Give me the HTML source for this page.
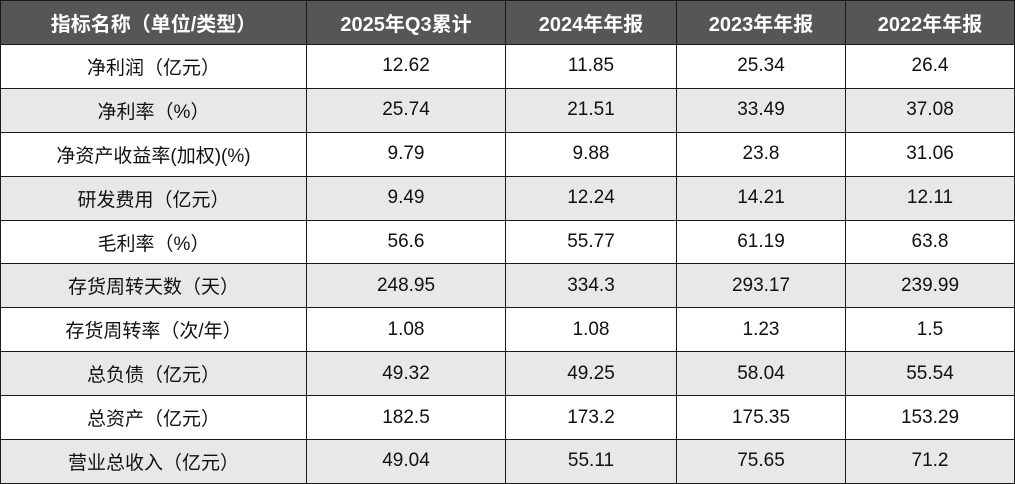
<!DOCTYPE html>
<html><head><meta charset="utf-8"><style>
html,body{margin:0;padding:0;background:#fff;}
table{border-collapse:collapse;table-layout:fixed;width:1014px;height:483px;font-family:"Liberation Sans","Noto Sans CJK SC",sans-serif;}
td,th{border:1.5px solid #1a1a1a;text-align:center;padding:0;font-size:19px;color:#111;}
th{background:#565656;color:#fff;font-size:20px;font-weight:bold;height:43px;}
tr{height:43.9px;}
tr:nth-child(odd) td{background:#e8e8e8;}
</style></head><body>
<table>
<colgroup><col style="width:306px"><col style="width:199px"><col style="width:171px"><col style="width:169px"><col style="width:169px"></colgroup>
<tr><th>指标名称（单位/类型）</th><th>2025年Q3累计</th><th>2024年年报</th><th>2023年年报</th><th>2022年年报</th></tr>
<tr><td>净利润（亿元）</td><td>12.62</td><td>11.85</td><td>25.34</td><td>26.4</td></tr>
<tr><td>净利率（%）</td><td>25.74</td><td>21.51</td><td>33.49</td><td>37.08</td></tr>
<tr><td>净资产收益率(加权)(%)</td><td>9.79</td><td>9.88</td><td>23.8</td><td>31.06</td></tr>
<tr><td>研发费用（亿元）</td><td>9.49</td><td>12.24</td><td>14.21</td><td>12.11</td></tr>
<tr><td>毛利率（%）</td><td>56.6</td><td>55.77</td><td>61.19</td><td>63.8</td></tr>
<tr><td>存货周转天数（天）</td><td>248.95</td><td>334.3</td><td>293.17</td><td>239.99</td></tr>
<tr><td>存货周转率（次/年）</td><td>1.08</td><td>1.08</td><td>1.23</td><td>1.5</td></tr>
<tr><td>总负债（亿元）</td><td>49.32</td><td>49.25</td><td>58.04</td><td>55.54</td></tr>
<tr><td>总资产（亿元）</td><td>182.5</td><td>173.2</td><td>175.35</td><td>153.29</td></tr>
<tr><td>营业总收入（亿元）</td><td>49.04</td><td>55.11</td><td>75.65</td><td>71.2</td></tr>
</table>
</body></html>
